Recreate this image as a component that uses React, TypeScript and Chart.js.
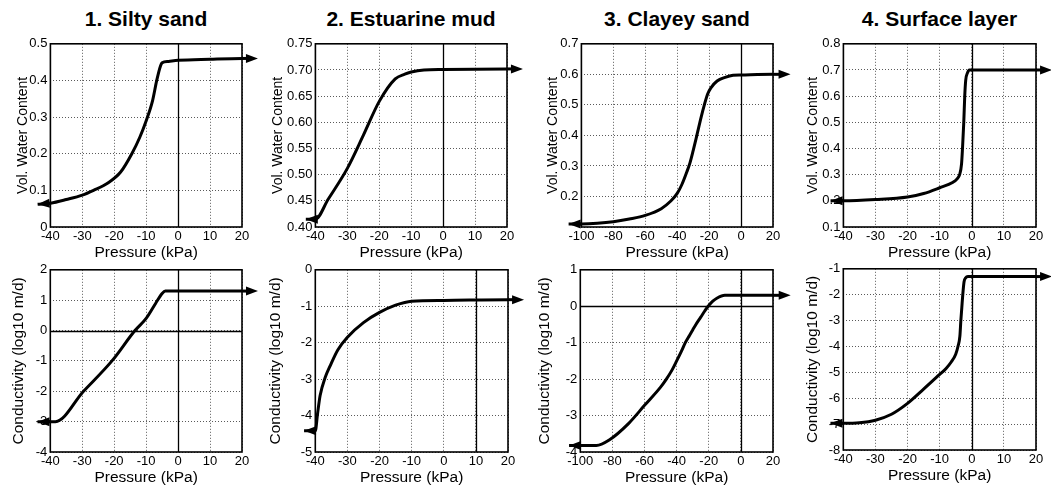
import React, { useEffect, useRef } from "react";
import { Chart, registerables } from "chart.js";
Chart.register(...registerables);

// ---------------- DATA ----------------
const panelTitles = ["1. Silty sand", "2. Estuarine mud", "3. Clayey sand", "4. Surface layer"];
const thetaAxisTitle = "Vol. Water Content";
const condAxisTitle = "Conductivity (log10 m/d)";
const pressureAxisTitle = "Pressure (kPa)";

// 1. Silty sand
const siltyThetaP = [-44, -40, -35, -30, -26.5, -22, -18, -14.5, -12, -10, -8, -6.7, -5.5, -5, -3, 0, 10, 20, 25];
const siltyTheta = [0.062, 0.065, 0.075, 0.087, 0.1, 0.12, 0.15, 0.2, 0.245, 0.29, 0.345, 0.4, 0.44, 0.448, 0.452, 0.455, 0.458, 0.46, 0.46];
const siltyKP = [-44, -40, -38.4, -29.6, -20.7, -13.5, -10, -7, -5, -4, 0, 20, 25];
const siltyK = [-3, -3, -3, -2, -1, 0, 0.4, 0.9, 1.22, 1.3, 1.3, 1.3, 1.3];

// 2. Estuarine mud
const mudThetaP = [-43, -40, -36, -30, -25, -20, -15, -12, -10, -6, 0, 20, 25];
const mudTheta = [0.415, 0.415, 0.453, 0.512, 0.575, 0.64, 0.683, 0.692, 0.696, 0.7, 0.701, 0.702, 0.702];
const mudKP = [-43.5, -40, -39.3, -38.5, -36.9, -35.3, -33, -30, -25, -20, -15, -10, 0, 20, 25];
const mudK = [-4.42, -4.42, -3.95, -3.45, -2.95, -2.62, -2.2, -1.85, -1.45, -1.17, -0.97, -0.86, -0.84, -0.82, -0.82];

// 3. Clayey sand
const clayThetaP = [-108, -100, -90, -80, -70, -60, -50, -44, -40, -37, -34, -32, -30, -27.7, -25, -23, -21, -19, -15, -10, -5, 0, 20, 31];
const clayTheta = [0.11, 0.11, 0.112, 0.117, 0.126, 0.138, 0.16, 0.185, 0.21, 0.24, 0.28, 0.31, 0.35, 0.4, 0.46, 0.5, 0.535, 0.555, 0.578, 0.59, 0.597, 0.598, 0.6, 0.6];
const clayKP = [-107, -100, -90, -82, -70, -60, -50, -46.4, -43, -40, -37, -34.6, -32, -30, -28, -25, -22.5, -20.4, -17.5, -15, -10, 0, 20, 31];
const clayK = [-3.82, -3.82, -3.82, -3.67, -3.22, -2.72, -2.22, -2.0, -1.76, -1.5, -1.23, -1.0, -0.8, -0.65, -0.5, -0.3, -0.13, 0, 0.14, 0.22, 0.3, 0.3, 0.3, 0.3];

// 4. Surface layer
const surfThetaP = [-44, -40, -30, -20, -15, -10, -6, -4.5, -3.8, -3.2, -2.9, -2.5, -2.2, -1.9, -1.3, -0.8, 0, 20, 25];
const surfTheta = [0.2, 0.2, 0.205, 0.215, 0.228, 0.25, 0.27, 0.285, 0.3, 0.34, 0.4, 0.5, 0.6, 0.66, 0.69, 0.7, 0.7, 0.7, 0.7];
const surfKP = [-44, -40, -35, -30, -25, -20, -15, -10, -8, -6.4, -5, -4.3, -3.7, -3.4, -3.1, -2.8, -2.4, -1.9, -1.2, 0, 20, 25];
const surfK = [-6.97, -6.97, -6.95, -6.85, -6.62, -6.2, -5.65, -5.08, -4.85, -4.6, -4.3, -4.0, -3.6, -3.0, -2.5, -2.0, -1.5, -1.35, -1.3, -1.3, -1.3, -1.3];

// axis ranges / ticks
const pressureRange = [-40, 20];
const clayPressureRange = [-100, 20];
const siltyThetaRange = [0, 0.5];
const mudThetaRange = [0.4, 0.75];
const clayThetaRange = [0.1, 0.7];
const surfThetaRange = [0.1, 0.8];
const siltyKRange = [-4, 2];
const mudKRange = [-5, 0];
const clayKRange = [-4, 1];
const surfKRange = [-8, -1];

// ---------------- LAYOUT ----------------
type Box = { l: number; r: number; t: number; b: number };
type Spec = {
  box: Box;
  yOff: number;
  px: number[];
  py: number[];
  xr: number[];
  xStep: number;
  yr: number[];
  yStep: number;
  yTitle: string;
  yTitleSize: number;
  yFmt?: (v: number) => string;
  refX: number[];
  refY: number[];
};

const FONT = "'Liberation Sans', Arial, Helvetica, sans-serif";

const specs: Spec[] = [
  { box: { l: 50, r: 242, t: 43, b: 227 }, yOff: 27, px: siltyThetaP, py: siltyTheta, xr: pressureRange, xStep: 10, yr: siltyThetaRange, yStep: 0.1, yTitle: thetaAxisTitle, yTitleSize: 14, refX: [0], refY: [] },
  { box: { l: 315, r: 507, t: 43, b: 227 }, yOff: 37, px: mudThetaP, py: mudTheta, xr: pressureRange, xStep: 10, yr: mudThetaRange, yStep: 0.05, yTitle: thetaAxisTitle, yTitleSize: 14, yFmt: (v) => v.toFixed(2), refX: [0], refY: [] },
  { box: { l: 581, r: 773, t: 43, b: 227 }, yOff: 28, px: clayThetaP, py: clayTheta, xr: clayPressureRange, xStep: 20, yr: clayThetaRange, yStep: 0.1, yTitle: thetaAxisTitle, yTitleSize: 14, yFmt: (v) => (Math.abs(v - 0.1) < 1e-6 ? "" : String(Math.round(v * 10) / 10)), refX: [0], refY: [] },
  { box: { l: 843, r: 1036, t: 43, b: 227 }, yOff: 30, px: surfThetaP, py: surfTheta, xr: pressureRange, xStep: 10, yr: surfThetaRange, yStep: 0.1, yTitle: thetaAxisTitle, yTitleSize: 14, refX: [0], refY: [] },
  { box: { l: 50, r: 242, t: 269, b: 452 }, yOff: 32, px: siltyKP, py: siltyK, xr: pressureRange, xStep: 10, yr: siltyKRange, yStep: 1, yTitle: condAxisTitle, yTitleSize: 15.5, refX: [0], refY: [0] },
  { box: { l: 315, r: 508, t: 269, b: 452 }, yOff: 40, px: mudKP, py: mudK, xr: pressureRange, xStep: 10, yr: mudKRange, yStep: 1, yTitle: condAxisTitle, yTitleSize: 15.5, refX: [10], refY: [] },
  { box: { l: 580, r: 773, t: 269, b: 452 }, yOff: 36, px: clayKP, py: clayK, xr: clayPressureRange, xStep: 20, yr: clayKRange, yStep: 1, yTitle: condAxisTitle, yTitleSize: 15.5, refX: [0], refY: [0] },
  { box: { l: 843, r: 1036, t: 268, b: 450 }, yOff: 31, px: surfKP, py: surfK, xr: pressureRange, xStep: 10, yr: surfKRange, yStep: 1, yTitle: condAxisTitle, yTitleSize: 15.5, refX: [0], refY: [] },
];

const PAD_TOP = 10;
const PAD_RIGHT = 26;
const X_AXIS_H = 35;

function drawArrow(ctx: CanvasRenderingContext2D, from: { x: number; y: number }, tip: { x: number; y: number }) {
  const ang = Math.atan2(tip.y - from.y, tip.x - from.x);
  const len = 12;
  const hw = 4.5;
  ctx.beginPath();
  ctx.moveTo(from.x, from.y);
  ctx.lineTo(tip.x - 6 * Math.cos(ang), tip.y - 6 * Math.sin(ang));
  ctx.strokeStyle = "#000";
  ctx.lineWidth = 3;
  ctx.lineCap = "butt";
  ctx.stroke();
  const bx = tip.x - len * Math.cos(ang);
  const by = tip.y - len * Math.sin(ang);
  ctx.beginPath();
  ctx.moveTo(tip.x, tip.y);
  ctx.lineTo(bx + hw * Math.cos(ang + Math.PI / 2), by + hw * Math.sin(ang + Math.PI / 2));
  ctx.lineTo(bx + hw * Math.cos(ang - Math.PI / 2), by + hw * Math.sin(ang - Math.PI / 2));
  ctx.closePath();
  ctx.fillStyle = "#000";
  ctx.fill();
}

function makePlugin(spec: Spec) {
  return {
    id: "frameAndArrows",
    beforeDatasetsDraw(chart: any) {
      const { ctx, chartArea } = chart;
      const xs = chart.scales.x;
      const ys = chart.scales.y;
      ctx.save();
      ctx.strokeStyle = "#000";
      ctx.lineWidth = 1.3;
      ctx.setLineDash([]);
      for (const v of spec.refX) {
        const px = Math.round(xs.getPixelForValue(v)) + 0.5;
        ctx.beginPath();
        ctx.moveTo(px, chartArea.top);
        ctx.lineTo(px, chartArea.bottom);
        ctx.stroke();
      }
      for (const v of spec.refY) {
        const py = Math.round(ys.getPixelForValue(v)) + 0.5;
        ctx.beginPath();
        ctx.moveTo(chartArea.left, py);
        ctx.lineTo(chartArea.right, py);
        ctx.stroke();
      }
      ctx.lineWidth = 1.6;
      ctx.strokeRect(chartArea.left, chartArea.top, chartArea.right - chartArea.left, chartArea.bottom - chartArea.top);
      ctx.restore();
    },
    afterDatasetsDraw(chart: any) {
      const xs = chart.scales.x;
      const ys = chart.scales.y;
      const n = spec.px.length;
      const at = (i: number) => ({ x: xs.getPixelForValue(spec.px[i]), y: ys.getPixelForValue(spec.py[i]) });
      const ctx = chart.ctx;
      ctx.save();
      drawArrow(ctx, at(1), at(0));
      drawArrow(ctx, at(n - 2), at(n - 1));
      ctx.restore();
    },
  };
}

function Panel({ spec }: { spec: Spec }) {
  const ref = useRef<HTMLCanvasElement>(null);
  const yW = spec.yOff + (spec.yTitleSize * 1.2) / 2;
  const left = spec.box.l - yW;
  const top = spec.box.t - PAD_TOP;
  const width = spec.box.r + PAD_RIGHT - left;
  const height = spec.box.b + X_AXIS_H - top;

  useEffect(() => {
    const data = spec.px.map((x, i) => ({ x, y: spec.py[i] }));
    const gridColor = "#5a5a5a";
    const chart = new Chart(ref.current as HTMLCanvasElement, {
      type: "line",
      data: {
        datasets: [
          {
            data,
            borderColor: "#000",
            borderWidth: 3,
            pointRadius: 0,
            cubicInterpolationMode: "monotone",
            fill: false,
            clip: false as any,
          } as any,
        ],
      },
      options: {
        responsive: false,
        animation: false,
        events: [],
        layout: { padding: { left: 0, top: PAD_TOP, right: PAD_RIGHT, bottom: 0 } },
        plugins: { legend: { display: false }, tooltip: { enabled: false }, title: { display: false } },
        scales: {
          x: {
            type: "linear",
            min: spec.xr[0],
            max: spec.xr[1],
            afterFit: (s: any) => {
              s.height = X_AXIS_H;
            },
            ticks: {
              stepSize: spec.xStep,
              autoSkip: false,
              maxRotation: 0,
              padding: 2,
              color: "#000",
              font: { family: FONT, size: 13 },
            },
            grid: { color: gridColor, lineWidth: 1, drawTicks: false },
            border: { display: false, dash: [1, 2] },
            title: {
              display: true,
              text: pressureAxisTitle,
              color: "#000",
              padding: 0,
              font: { family: FONT, size: 15.5 },
            },
          },
          y: {
            type: "linear",
            min: spec.yr[0],
            max: spec.yr[1],
            afterFit: (s: any) => {
              s.width = yW;
            },
            ticks: {
              stepSize: spec.yStep,
              autoSkip: false,
              padding: 3,
              color: "#000",
              font: { family: FONT, size: 13 },
              callback: (v: any) => (spec.yFmt ? spec.yFmt(Number(v)) : String(Math.round(Number(v) * 100) / 100)),
            },
            grid: { color: gridColor, lineWidth: 1, drawTicks: false },
            border: { display: false, dash: [1, 2] },
            title: {
              display: true,
              text: spec.yTitle,
              color: "#000",
              padding: 0,
              font: { family: FONT, size: spec.yTitleSize },
            },
          },
        },
      },
      plugins: [makePlugin(spec)],
    });
    return () => chart.destroy();
  }, []);

  return (
    <canvas
      ref={ref}
      width={width}
      height={height}
      style={{ position: "absolute", left, top, width, height }}
    />
  );
}

export default function App() {
  return (
    <div
      style={{
        position: "fixed",
        left: 0,
        top: 0,
        width: 1051,
        height: 486,
        overflow: "hidden",
        background: "#fff",
      }}
    >
      {panelTitles.map((t, i) => {
        const b = specs[i].box;
        return (
          <div
            key={t}
            style={{
              position: "absolute",
              left: b.l - 20,
              width: b.r - b.l + 40,
              top: 8,
              textAlign: "center",
              fontFamily: FONT,
              fontWeight: "bold",
              fontSize: 21,
              lineHeight: "21px",
              color: "#000",
              whiteSpace: "nowrap",
            }}
          >
            {t}
          </div>
        );
      })}
      {specs.map((s, i) => (
        <Panel key={i} spec={s} />
      ))}
    </div>
  );
}
